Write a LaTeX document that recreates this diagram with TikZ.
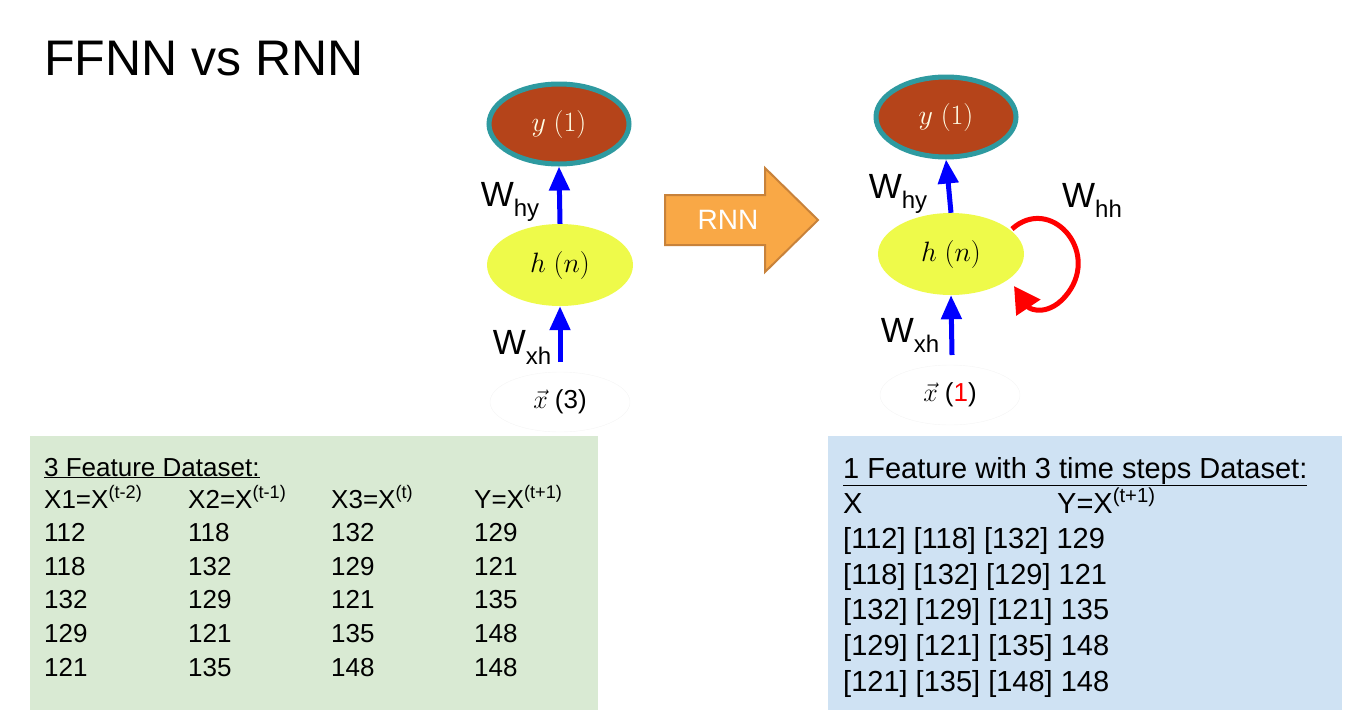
\RequirePackage{fix-cm}
\documentclass[tikz,border=0pt]{standalone}
\usepackage{fontspec}
\setmainfont{Liberation Sans}
\usetikzlibrary{arrows.meta,shapes.geometric}
\definecolor{brownY}{HTML}{B5441A}
\definecolor{tealB}{HTML}{2E9AA0}
\definecolor{yelH}{HTML}{EEFA4A}
\definecolor{orA}{HTML}{F9A846}
\definecolor{orB}{HTML}{C8823A}
\definecolor{grB}{HTML}{D9EAD3}
\definecolor{blB}{HTML}{CFE2F3}
\begin{document}
\begin{tikzpicture}[x=1pt,y=-1pt,
  ynode/.style={ellipse,fill=brownY,draw=tealB,line width=5pt,minimum width=140pt,minimum height=80pt,inner sep=0pt,font=\fontsize{28}{32}\selectfont,text=white!90!yellow},
  hnode/.style={ellipse,fill=yelH,minimum width=146pt,minimum height=82pt,inner sep=0pt,font=\fontsize{28}{32}\selectfont},
  xnode/.style={ellipse,fill=white,draw=gray!8,minimum width=140pt,minimum height=60pt,inner sep=0pt,font=\fontsize{26}{30}\selectfont},
  warr/.style={-{Triangle[length=24pt,width=20pt]},draw=blue,line width=5pt},
  wlab/.style={font=\fontsize{35}{40}\selectfont,inner sep=0pt},
  tab/.style={font=\fontsize{26}{30}\selectfont,anchor=base west,inner sep=0pt},
  tabr/.style={font=\fontsize{29}{33}\selectfont,anchor=base west,inner sep=0pt}]
\useasboundingbox (0,0) rectangle (1359,726);
\node[font=\fontsize{50}{56}\selectfont,anchor=base west,inner sep=0pt] (title) at (44,75) {FFNN vs RNN};
% left net
\node[ynode] (y1) at (559,124) {$y\ (1)$};
\node[hnode] (h1) at (560,265) {$h\ (n)$};
\node[xnode] (x1) at (560,402) {$\vec{x}$ (3)};
\draw[warr] (h1.north) -- (y1.south);
\draw[warr] (560,362) coordinate (c1) -- (h1.south);
\node[wlab] (wl1) at (510,202) {W\raisebox{-10pt}{\fontsize{24}{28}\selectfont hy}};
\node[wlab] (wl2) at (522,347) {W\raisebox{-10pt}{\fontsize{24}{28}\selectfont xh}};
% RNN arrow
\filldraw[fill=orA,draw=orB,line width=2pt] (665,195) -- (765,195) -- (765,168) -- (818,220) -- (765,272) -- (765,245) -- (665,245) -- cycle;
\node[font=\fontsize{28}{32}\selectfont,text=white] (ra) at (728,220) {RNN};
% right net
\node[ynode] (y2) at (946,117) {$y\ (1)$};
\node[hnode] (h2) at (951,254) {$h\ (n)$};
\node[xnode] (x2) at (950,395) {$\vec{x}$ (\textcolor{red}{1})};
\draw[warr] (h2.north) -- (y2.south);
\draw[warr] (952,355) coordinate (c2) -- (h2.south);
\node[wlab] (wl3) at (898,194) {W\raisebox{-10pt}{\fontsize{24}{28}\selectfont hy}};
\node[wlab] (wl4) at (910,335) {W\raisebox{-10pt}{\fontsize{24}{28}\selectfont xh}};
\node[wlab] (wl5) at (1092,200) {W\raisebox{-10pt}{\fontsize{24}{28}\selectfont hh}};
\coordinate (ls) at (1012,229);
\coordinate (le) at (1014,286);
\draw[red,line width=5pt,-{Triangle[length=26pt,width=28pt]}] (ls) .. controls (1050,195) and (1100,250) .. (1068,293) .. controls (1050,317) and (1030,310) .. (le);
% left table
\fill[grB] (30,436) rectangle (598,710);
\node[tab] (lt) at (44,476) {\underline{3 Feature Dataset:}};
\foreach \t/\xx in {{X1=X\textsuperscript{(t-2)}}/44,{X2=X\textsuperscript{(t-1)}}/188,{X3=X\textsuperscript{(t)}}/331,{Y=X\textsuperscript{(t+1)}}/474}
  \node[tab] at (\xx,508) {\t};
\foreach \a/\b/\c/\d [count=\i] in {112/118/132/129,118/132/129/121,132/129/121/135,129/121/135/148,121/135/148/148}{
  \node[tab] at (44,{508+\i*33.6}) {\a};
  \node[tab] at (188,{508+\i*33.6}) {\b};
  \node[tab] at (331,{508+\i*33.6}) {\c};
  \node[tab] at (474,{508+\i*33.6}) {\d};
}
% right table
\fill[blB] (828,436) rectangle (1342,710);
\node[tabr] (rt) at (843,478) {\underline{1 Feature with 3 time steps Dataset:}};
\node[tabr] at (843,513) {X};
\node[tabr] at (1057,513) {Y=X\textsuperscript{(t+1)}};
\foreach \r [count=\i] in {{[112] [118] [132] 129},{[118] [132] [129] 121},{[132] [129] [121] 135},{[129] [121] [135] 148},{[121] [135] [148] 148}}
  \node[tabr] at (843,{513+\i*35.6}) {\r};
\end{tikzpicture}
\end{document}
